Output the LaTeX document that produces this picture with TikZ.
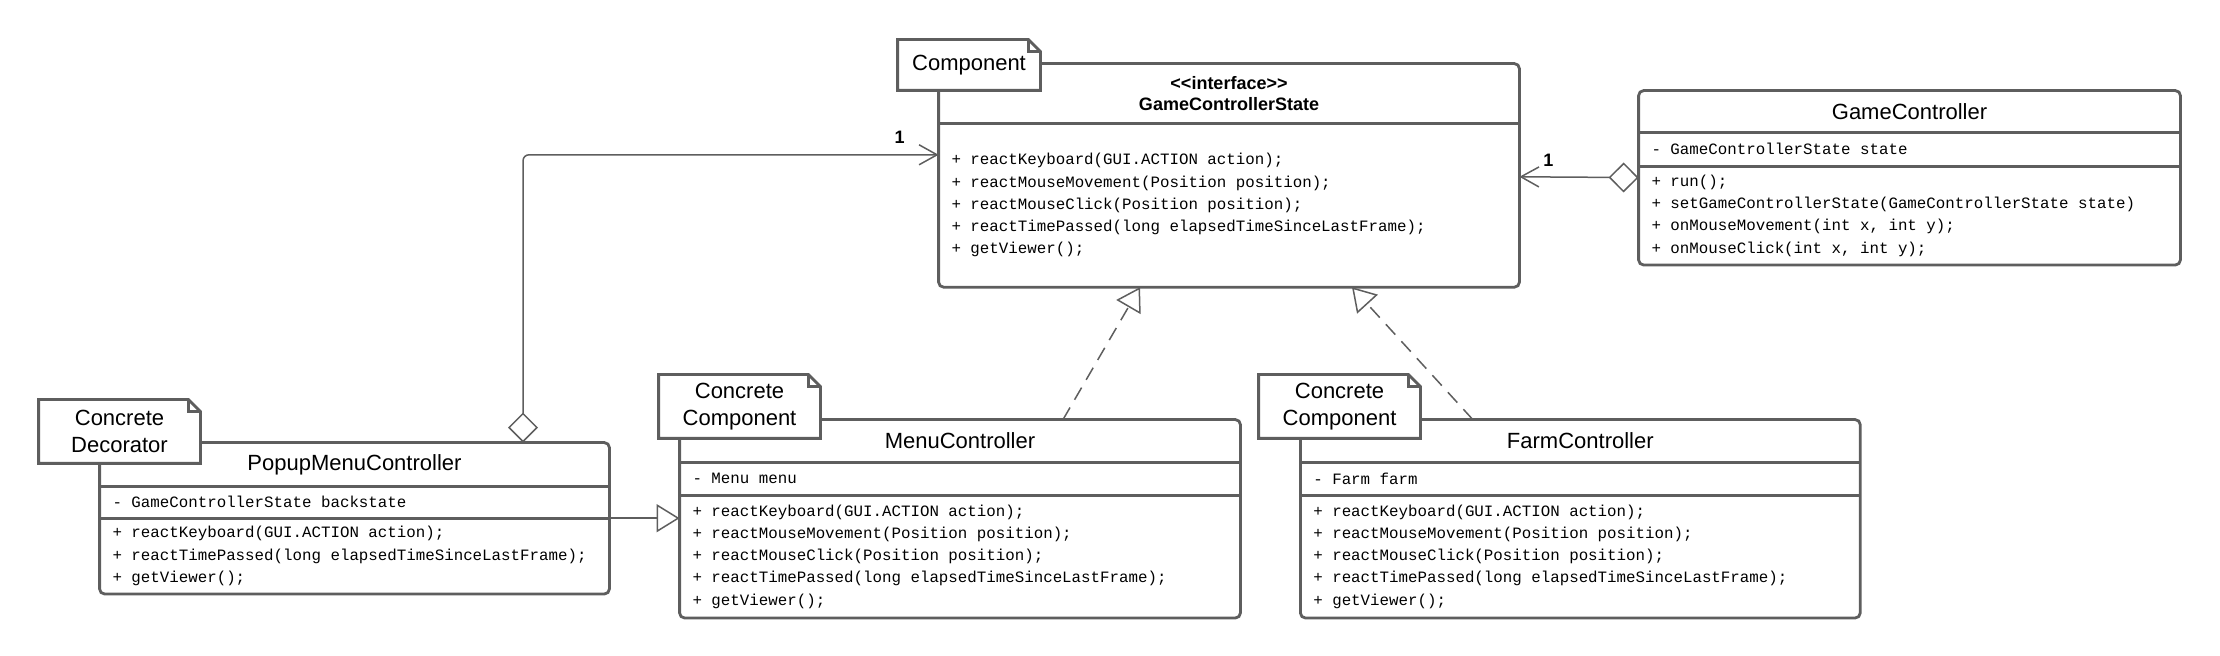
\documentclass[tikz,border=0pt]{standalone}
\usepackage{fontspec}
\setsansfont{Liberation Sans}
\setmonofont{Liberation Mono}
\usetikzlibrary{arrows.meta}
\usetikzlibrary{positioning}

\definecolor{umlgray}{RGB}{94,94,94}

\tikzset{
	classname/.style 2 args={minimum width=#1, minimum height=#2, inner sep=0pt, align=center, font=\sffamily\fontsize{11}{13}\selectfont},
	members/.style 2 args={text width=#1, minimum height=#2, inner xsep=6.25pt, inner ysep=0pt, align=left, font=\ttfamily\fontsize{7.9}{11.15}\selectfont, execute at begin node={\spaceskip=0.6em\relax}},
	classframe/.style={draw=umlgray, line width=1.4pt},
	umlnote/.style={fill=white, inner sep=0pt, align=center, font=\sffamily\fontsize{11}{13.3}\selectfont},
	mult/.style={inner sep=0pt, font=\sffamily\bfseries\fontsize{9}{10}\selectfont},
	assoc/.style={draw=umlgray, line width=0.75pt, {Diamond[open,length=15pt,width=15pt]}-{Straight Barb[length=9pt,width=10pt]}},
	general/.style={draw=umlgray, line width=0.75pt, -{Triangle[open,length=11.5pt,width=14pt]}},
	realize/.style={general, dash pattern=on 7pt off 4.5pt}
}

\begin{document}
\begin{tikzpicture}[x=0.5pt,y=-0.5pt]
	\useasboundingbox (0,0) rectangle (2220,656);
	% interface
	\node[classname={290pt}{29.5pt}, font=\sffamily\bfseries\fontsize{9}{10.5}\selectfont] (gcsHead) at (1229,93.5) {<\kern0pt<interface>\kern0pt>\\GameControllerState};
	\node[members={277.5pt}{81.5pt}, below=0pt of gcsHead] (gcsOps) {+ reactKeyboard(GUI.ACTION action);\\+ reactMouseMovement(Position position);\\+ reactMouseClick(Position position);\\+ reactTimePassed(long elapsedTimeSinceLastFrame);\\+ getViewer();};
	% GameController
	\node[classname={270.5pt}{20.5pt}] (gcName) at (1909.5,111.5) {GameController};
	\node[members={258pt}{16.5pt}, below=0pt of gcName] (gcAttr) {- GameControllerState state};
	\node[members={258pt}{49pt}, below=0pt of gcAttr] (gcOps) {+ run();\\+ setGameControllerState(GameControllerState state)\\+ onMouseMovement(int x, int y);\\+ onMouseClick(int x, int y);};
	% PopupMenuController
	\node[classname={254.5pt}{21.5pt}] (popupName) at (354.5,464.5) {PopupMenuController};
	\node[members={242pt}{15.5pt}, below=0pt of popupName] (popupAttr) {- GameControllerState backstate};
	\node[members={242pt}{37.5pt}, below=0pt of popupAttr] (popupOps) {+ reactKeyboard(GUI.ACTION action);\\+ reactTimePassed(long elapsedTimeSinceLastFrame);\\+ getViewer();};
	% MenuController
	\node[classname={280pt}{21pt}] (menuName) at (960,441) {MenuController};
	\node[members={267.5pt}{16pt}, below=0pt of menuName] (menuAttr) {- Menu menu};
	\node[members={267.5pt}{61pt}, below=0pt of menuAttr] (menuOps) {+ reactKeyboard(GUI.ACTION action);\\+ reactMouseMovement(Position position);\\+ reactMouseClick(Position position);\\+ reactTimePassed(long elapsedTimeSinceLastFrame);\\+ getViewer();};
	% FarmController
	\node[classname={279.5pt}{21pt}, right=30pt of menuName] (farmName) {FarmController};
	\node[members={267pt}{16pt}, below=0pt of farmName] (farmAttr) {- Farm farm};
	\node[members={267pt}{61pt}, below=0pt of farmAttr] (farmOps) {+ reactKeyboard(GUI.ACTION action);\\+ reactMouseMovement(Position position);\\+ reactMouseClick(Position position);\\+ reactTimePassed(long elapsedTimeSinceLastFrame);\\+ getViewer();};

	\draw[classframe, rounded corners=2.5pt] (gcsHead.north west) rectangle (gcsOps.south east);
	\draw[classframe] (gcsHead.south west) -- (gcsHead.south east);
	\foreach \cls in {gc,popup,menu,farm}{
		\draw[classframe, rounded corners=2.5pt] (\cls Name.north west) rectangle (\cls Ops.south east);
		\draw[classframe] (\cls Attr.north west) -- (\cls Attr.north east) (\cls Attr.south west) -- (\cls Attr.south east);
	}

	\draw[assoc, rounded corners=3pt] ([xshift=84.25pt]popupName.north) |- ([yshift=25.25pt]gcsOps.west) node[mult, at end, xshift=-19.5pt, yshift=8.5pt] {1};
	\draw[assoc] ([yshift=19pt]gcOps.west) -- ([yshift=14.25pt]gcsOps.east) node[mult, at end, xshift=14.5pt, yshift=8pt] {1};
	\draw[general] (popupOps.north east) -- (popupOps.north east -| menuOps.west);
	\draw[realize] ([xshift=51.5pt]menuName.north) -- ([xshift=-44.5pt]gcsOps.south);
	\draw[realize] ([xshift=-53.75pt]farmName.north) -- ([xshift=61.5pt]gcsOps.south);

	% notes
	\node[umlnote, minimum width=71pt, minimum height=25pt] (compNote) at (969,65) {Component};
	\node[umlnote, minimum width=80.5pt, minimum height=31.5pt] (decoNote) at (119.5,431.5) {Concrete\\Decorator};
	\node[umlnote, minimum width=80.5pt, minimum height=31.5pt] (menuNote) at (739.5,406.5) {Concrete\\Component};
	\node[umlnote, minimum width=80.5pt, minimum height=31.5pt] (farmNote) at (1339.5,406.5) {Concrete\\Component};
	\foreach \n in {compNote,decoNote,menuNote,farmNote}{
		\draw[classframe] (\n.north west) -- ([xshift=-6pt]\n.north east) -- ([yshift=-6pt]\n.north east) -- (\n.south east) -- (\n.south west) -- cycle
			([xshift=-6pt]\n.north east) |- ([yshift=-6pt]\n.north east);
	}
\end{tikzpicture}
\end{document}
